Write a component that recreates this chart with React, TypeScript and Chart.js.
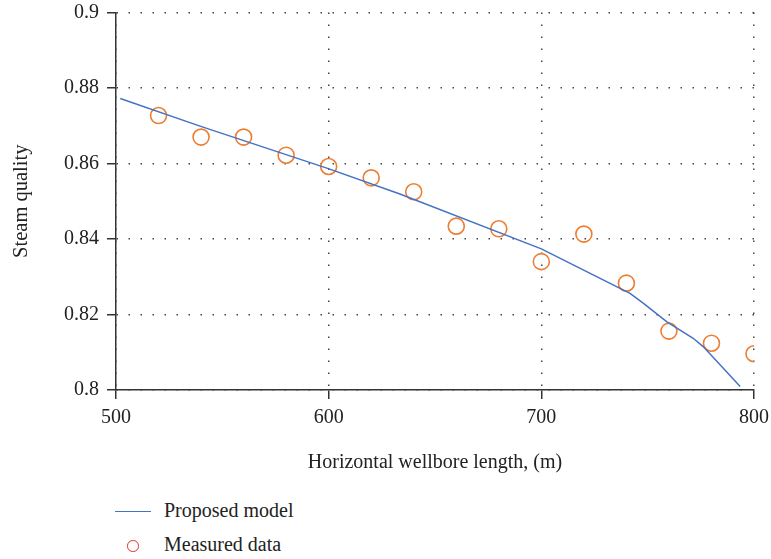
import React, { useEffect, useRef } from "react";
import { Chart, registerables } from "chart.js";

Chart.register(...registerables);

// Measured steam quality along the horizontal wellbore
const measuredLength = [520, 540, 560, 580, 600, 620, 640, 660, 680, 700, 720, 740, 760, 780, 800];
const measuredQuality = [0.8727, 0.867, 0.867, 0.8622, 0.8592, 0.8562, 0.8525, 0.8434, 0.8427, 0.834, 0.8413, 0.8283, 0.8156, 0.8124, 0.8096];

// Proposed model curve
const modelLength = [502, 539.5, 599.5, 633.5, 700, 741.7, 747.9, 758.9, 771.4, 776.1, 793.5];
const modelQuality = [0.8772, 0.8699, 0.8587, 0.8519, 0.8374, 0.8256, 0.823, 0.8181, 0.8137, 0.8115, 0.8009];

const xTicks = [500, 600, 700, 800];
const yTicks = [0.8, 0.82, 0.84, 0.86, 0.88, 0.9];
const yTickLabels = ["0.8", "0.82", "0.84", "0.86", "0.88", "0.9"];

const FONT = "'Liberation Serif', 'Times New Roman', serif";

export default function App() {
  const canvasRef = useRef<HTMLCanvasElement>(null);

  useEffect(() => {
    const ctx = canvasRef.current!.getContext("2d")!;
    const axisCommon = {
      grid: {
        color: "#444",
        lineWidth: 1.5,
        drawTicks: true,
        tickLength: 9,
        tickColor: "#333",
        tickWidth: 1.5,
        tickBorderDash: [],
      },
      border: { display: true, color: "#333", width: 1.5, dash: [1.5, 10.5] },
    };
    const chart = new Chart(ctx, {
      type: "scatter",
      data: {
        datasets: [
          {
            label: "Proposed model",
            data: modelLength.map((x, i) => ({ x, y: modelQuality[i] })),
            showLine: true,
            borderColor: "#4472C4",
            borderWidth: 1.5,
            pointRadius: 0,
            tension: 0,
          },
          {
            label: "Measured data",
            data: measuredLength.map((x, i) => ({ x, y: measuredQuality[i] })),
            pointRadius: 8,
            pointStyle: "circle",
            backgroundColor: "rgba(0,0,0,0)",
            borderColor: "#ED7D31",
            borderWidth: 1.6,
          },
        ],
      },
      options: {
        animation: false,
        responsive: false,
        maintainAspectRatio: false,
        layout: { padding: { left: 0, top: 12.5, right: 17, bottom: 0 } },
        plugins: { legend: { display: false }, tooltip: { enabled: false } },
        scales: {
          x: {
            ...axisCommon,
            type: "linear",
            min: 500,
            max: 800,
            afterBuildTicks: (s: any) => {
              s.ticks = xTicks.map((v) => ({ value: v }));
            },
            afterFit: (s: any) => {
              s.height = 90;
              s.paddingLeft = 0;
              s.paddingRight = 0;
            },
            ticks: {
              color: "#222",
              padding: 7,
              maxRotation: 0,
              font: { family: FONT, size: 20 },
              callback: (v: any) => String(v),
            },
            title: {
              display: true,
              text: "Horizontal wellbore length, (m)",
              color: "#222",
              font: { family: FONT, size: 20 },
              padding: { top: 0, bottom: 5 },
            },
          },
          y: {
            ...axisCommon,
            type: "linear",
            min: 0.8,
            max: 0.9,
            afterBuildTicks: (s: any) => {
              s.ticks = yTicks.map((v) => ({ value: v }));
            },
            afterFit: (s: any) => {
              s.width = 116;
              s.paddingTop = 0;
              s.paddingBottom = 0;
            },
            ticks: {
              color: "#222",
              padding: 8,
              font: { family: FONT, size: 20 },
              callback: (_v: any, i: number) => yTickLabels[i],
            },
            title: {
              display: true,
              text: "Steam quality",
              color: "#222",
              font: { family: FONT, size: 20.5 },
              padding: { top: 9, bottom: 0 },
            },
          },
        },
      },
    });
    return () => chart.destroy();
  }, []);

  const legendText: React.CSSProperties = {
    position: "absolute",
    left: 164,
    fontFamily: FONT,
    fontSize: 20,
    lineHeight: "24px",
    color: "#222",
    whiteSpace: "nowrap",
  };

  return (
    <div style={{ position: "absolute", left: 0, top: 0, width: 771, height: 559, background: "#fff" }}>
      <canvas ref={canvasRef} width={771} height={480} style={{ position: "absolute", left: 0, top: 0 }} />
      <div style={{ position: "absolute", left: 115, top: 510.5, width: 36, height: 1.5, background: "#4472C4" }} />
      <div style={{ ...legendText, top: 498 }}>Proposed model</div>
      <div
        style={{
          position: "absolute",
          left: 127,
          top: 540,
          width: 9.5,
          height: 9.5,
          borderRadius: "50%",
          border: "1.5px solid #E0302A",
        }}
      />
      <div style={{ ...legendText, top: 532 }}>Measured data</div>
    </div>
  );
}
